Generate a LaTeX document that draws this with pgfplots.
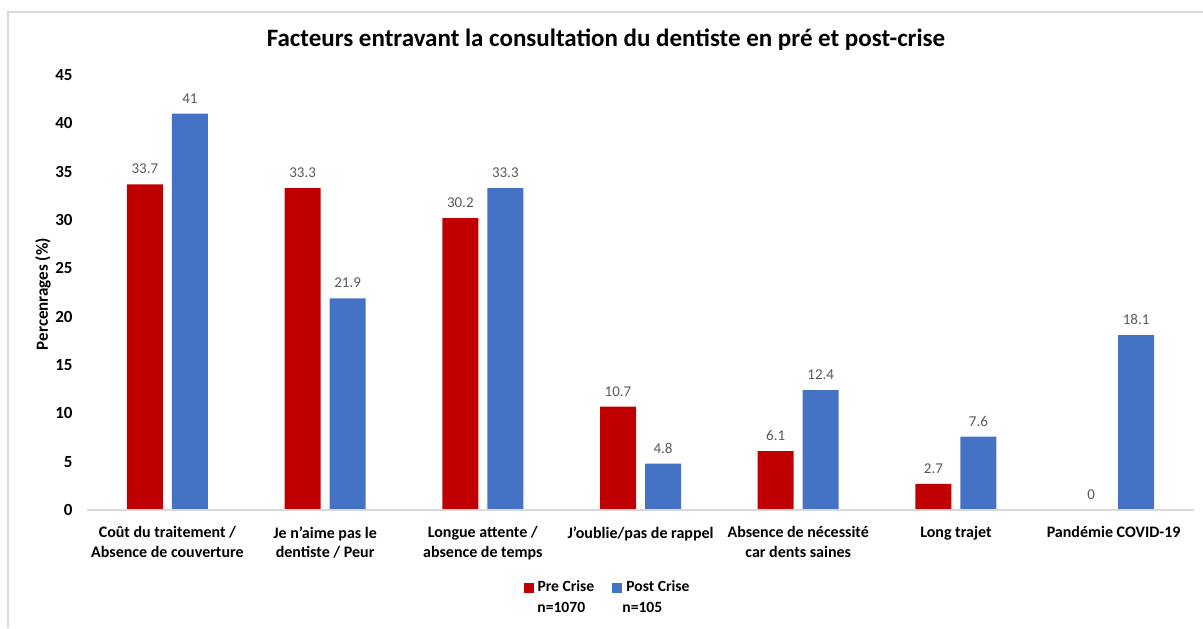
\documentclass[border=0pt]{standalone}
\usepackage{fontspec}
\setmainfont{Carlito}
\usepackage{pgfplots}
\pgfplotsset{compat=1.18}
\definecolor{prered}{HTML}{C00000}
\definecolor{postblue}{HTML}{4472C4}
\definecolor{axgray}{HTML}{D9D9D9}
\definecolor{lblgray}{HTML}{595959}
\begin{document}
\begin{tikzpicture}
\useasboundingbox (-43.5pt,-59pt) rectangle (558pt,255pt);
\draw[axgray, line width=0.6pt] (-39.5pt,-59pt) -- (-39.5pt,249pt) -- (558pt,249pt);
\begin{axis}[
  at={(0,0)}, anchor=south west,
  x=78.85pt, y=4.833pt,
  xmin=-0.51, xmax=6.51, ymin=0, ymax=45,
  ybar=4.5pt, bar width=18pt,
  axis line style={draw=none},
  axis on top,
  major tick length=0pt,
  clip=false,
  ytick={0,5,...,45},
  extra y ticks={0},
  extra y tick labels={},
  extra y tick style={ymajorgrids=true, major grid style={axgray, line width=0.6pt}},
  xtick={0,...,6},
  xticklabels={{Coût du traitement /\\Absence de couverture},{Je n'aime pas le\\dentiste / Peur},{Longue attente /\\absence de temps},{J’oublie/pas de rappel},{Absence de nécessité\\car dents saines},{Long trajet},{Pandémie COVID-19}},
  xticklabel style={font=\fontsize{8}{9.8}\selectfont\bfseries, align=center, anchor=north, inner sep=0pt, yshift=-8pt},
  yticklabel style={font=\fontsize{8.5}{9}\selectfont\bfseries, anchor=east, inner sep=0pt, xshift=-7pt},
  /pgf/number format/assume math mode=true,
  nodes near coords={\pgfmathprintnumber[fixed,precision=1]{\pgfplotspointmeta}},
  every node near coord/.append style={font=\fontsize{7.5}{8}\selectfont, text=lblgray, anchor=south, inner sep=0pt, yshift=5pt},
  legend columns=2,
  legend style={draw=none, fill=none, at={(axis description cs:0.394,-0.179)}, anchor=west, inner sep=0pt, font=\fontsize{7.8}{8}\selectfont\bfseries, /tikz/every even column/.append style={column sep=7pt}},
  legend image code/.code={\fill[#1] (0pt,-2.5pt) rectangle (5pt,2.5pt);},
]
\addplot[fill=prered, draw=none] coordinates {(0,33.7) (1,33.3) (2,30.2) (3,10.7) (4,6.1) (5,2.7) (6,0)};
\addplot[fill=postblue, draw=none] coordinates {(0,41) (1,21.9) (2,33.3) (3,4.8) (4,12.4) (5,7.6) (6,18.1)};
\legend{Pre Crise, Post Crise}
\end{axis}
\node[font=\fontsize{12.5}{14}\selectfont\bfseries] at (259.5pt,235pt) {Facteurs entravant la consultation du dentiste en pré et post-crise};
\node[font=\fontsize{8.5}{9}\selectfont\bfseries, rotate=90] at (-22pt,108pt) {Percenrages (\%)};
\node[font=\fontsize{7.8}{8}\selectfont\bfseries, anchor=west, inner sep=0pt] at (225pt,-48.5pt) {n=1070};
\node[font=\fontsize{7.8}{8}\selectfont\bfseries, anchor=west, inner sep=0pt] at (267.5pt,-48.5pt) {n=105};
\end{tikzpicture}
\end{document}
